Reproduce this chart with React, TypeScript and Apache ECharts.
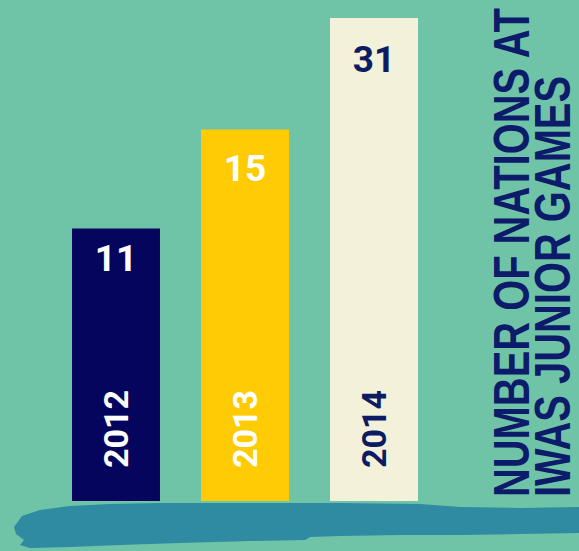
import React, { useEffect, useRef } from "react";
import * as echarts from "echarts";

const categories = ["2012", "2013", "2014"];
const nations = [11, 15, 31];
const barColors = ["#05055e", "#ffcb05", "#f3f1da"];
const labelColors = ["#ffffff", "#ffffff", "#0d1b63"];
const labelDistances = [11, 21, 23];
const titleLines = ["NUMBER OF NATIONS AT", "IWAS JUNIOR GAMES"];

const brushPoints: number[][] = [
  [14, 527], [22, 516], [40, 510], [70, 506], [110, 504], [160, 503], [200, 503],
  [280, 503], [340, 503], [420, 504], [460, 507], [520, 508], [579, 507],
  [579, 533], [520, 534], [460, 535], [400, 535], [340, 536], [310, 537],
  [305, 540], [250, 541], [180, 543], [120, 545], [70, 547], [30, 548],
  [20, 545], [24, 540], [16, 534],
];

export default function App() {
  const ref = useRef<HTMLDivElement>(null);
  useEffect(() => {
    document.body.style.margin = "0";
    const chart = echarts.init(ref.current!, null, { renderer: "svg" });
    const titleFont = 'bold 50px "Liberation Sans", Arial, sans-serif';
    chart.setOption({
      animation: false,
      backgroundColor: "#6fc3a6",
      grid: { left: 51.5, right: 140.5, top: 18, bottom: 50 },
      xAxis: {
        type: "category",
        data: categories,
        z: 10,
        axisLine: { show: false },
        axisTick: { show: false },
        axisLabel: {
          inside: true,
          rotate: 90,
          margin: 33,
          interval: 0,
          fontSize: 34,
          fontWeight: "bold",
          fontFamily: "Roboto",
          color: (_v: any, i: number) => labelColors[i],
        },
      },
      yAxis: {
        type: "value",
        min: 0,
        max: 31,
        show: false,
        splitLine: { show: false },
        breaks: [{ start: 17, end: 28.5, gap: 0 }],
        breakArea: { show: false },
      },
      series: [
        {
          type: "bar",
          barWidth: 88,
          data: nations.map((v, i) => ({
            value: v,
            itemStyle: { color: barColors[i] },
            label: { color: labelColors[i], distance: labelDistances[i] },
          })),
          label: {
            show: true,
            position: "insideTop",
            fontSize: 37,
            fontWeight: "bold",
            fontFamily: "Roboto",
          },
        },
      ],
      graphic: [
        {
          type: "polygon",
          z: 100,
          shape: { points: brushPoints },
          style: { fill: "#2f8ba2" },
        },
        ...titleLines.map((t, i) => ({
          type: "text",
          z: 100,
          x: i === 0 ? 512 : 553,
          y: 497,
          rotation: Math.PI / 2,
          scaleX: 0.798,
          style: {
            text: t,
            fill: "#0d1b6b",
            font: titleFont,
            lineHeight: 40,
            align: "left",
            verticalAlign: "middle",
            textAlign: "left",
            textVerticalAlign: "middle",
          },
        })),
      ],
    });
    return () => chart.dispose();
  }, []);
  return <div ref={ref} style={{ width: 579, height: 551 }} />;
}
